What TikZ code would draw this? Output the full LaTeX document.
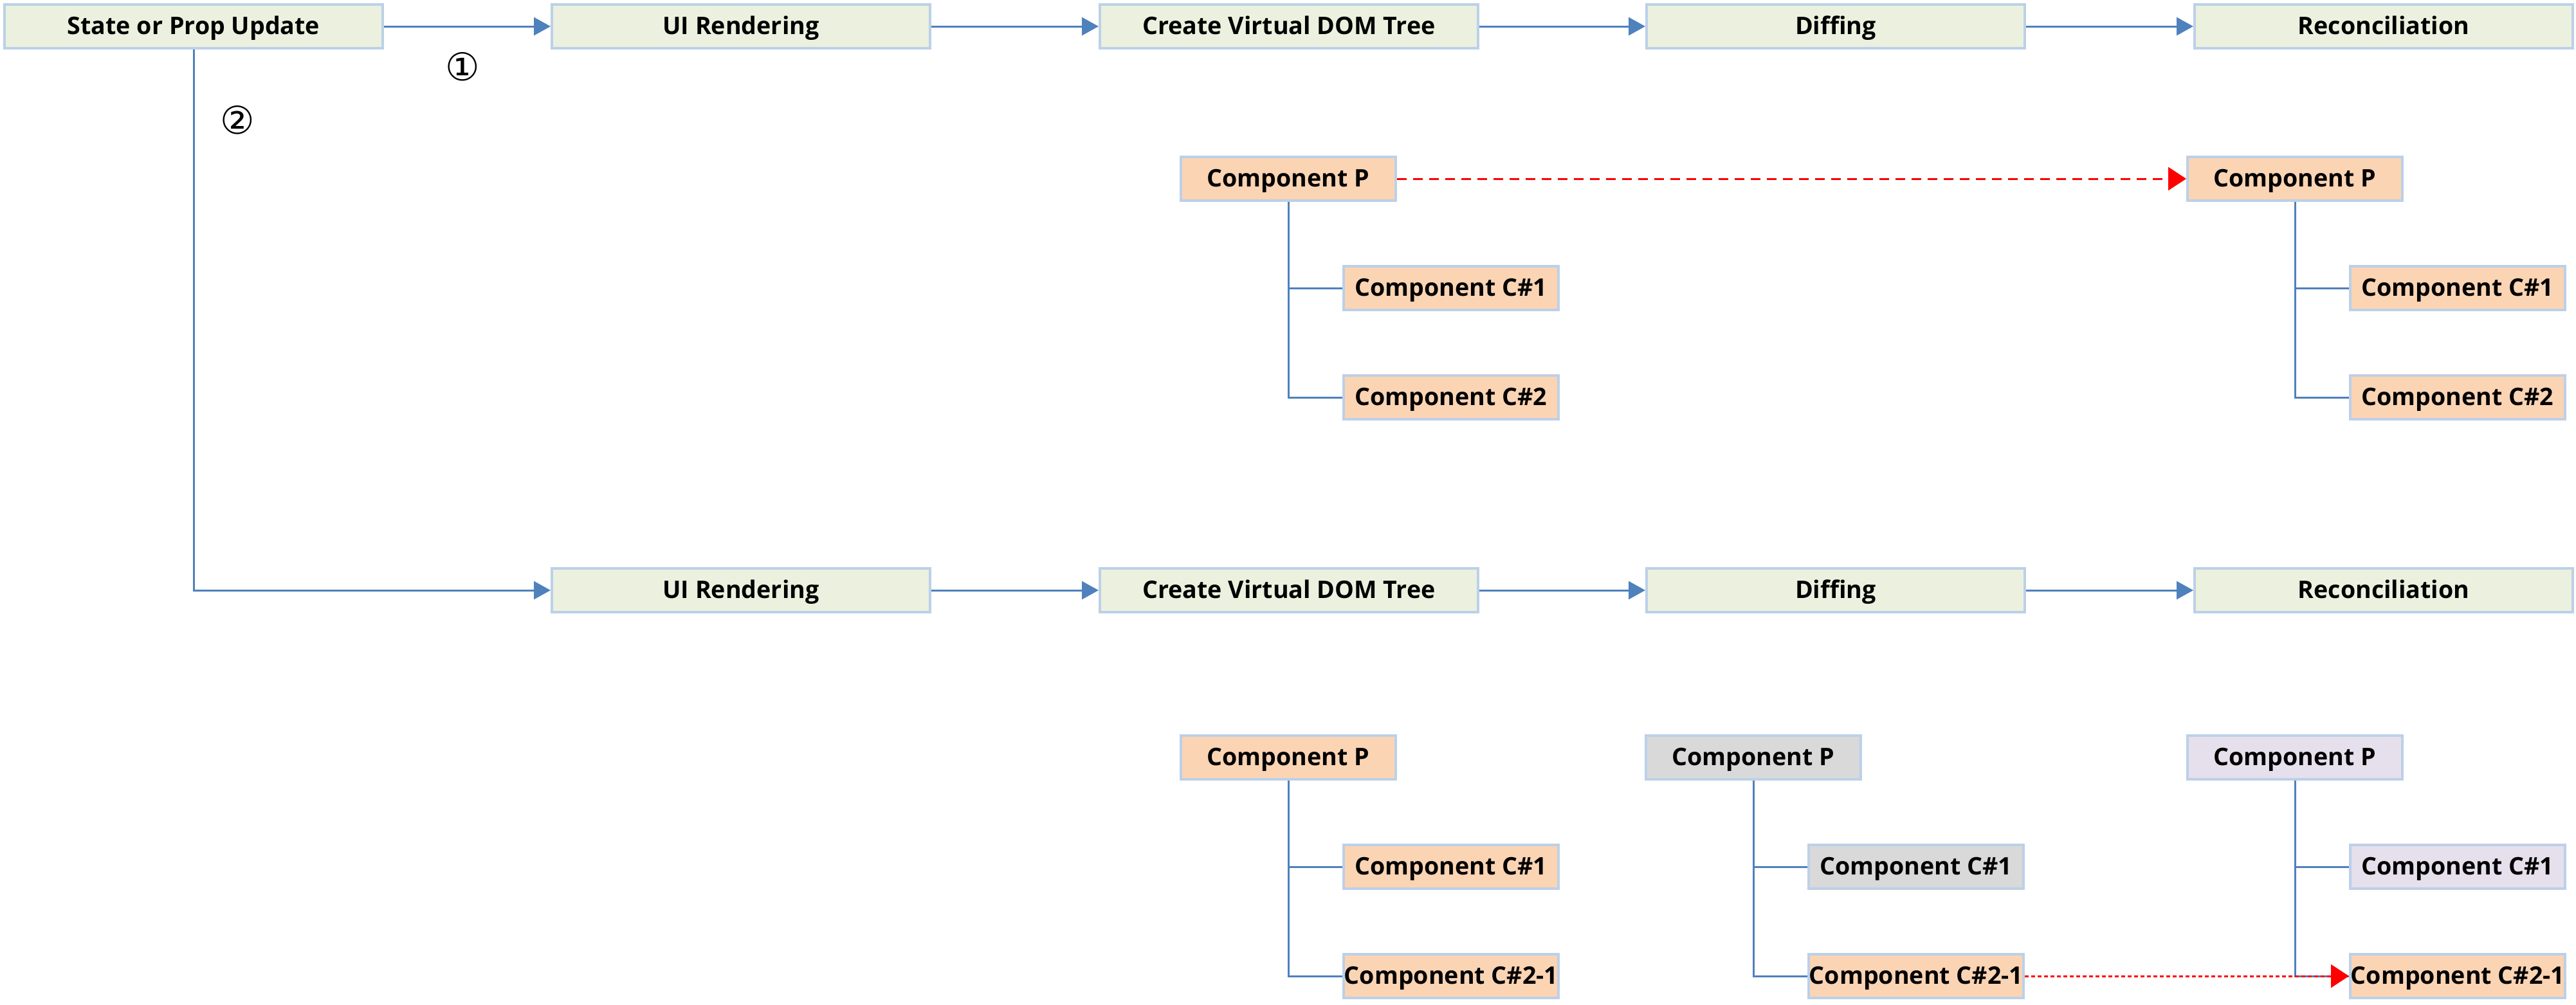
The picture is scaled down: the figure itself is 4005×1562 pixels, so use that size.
\documentclass[tikz,border=0pt]{standalone}
\usepackage{fontspec}
\setmainfont{Open Sans}
\newfontfamily\circfont{DejaVu Sans}
\usetikzlibrary{arrows.meta}
\definecolor{boxborder}{HTML}{BCD0E8}
\definecolor{stepfill}{HTML}{EBF1DE}
\definecolor{orangefill}{HTML}{FBD4B4}
\definecolor{grayfill}{HTML}{D9D9D9}
\definecolor{lavfill}{HTML}{E5E0EC}
\definecolor{linkblue}{HTML}{4F81BD}
\definecolor{redline}{HTML}{FF0000}
\tikzset{
  basebox/.style={draw=boxborder, line width=0.4mm, inner sep=0pt, minimum height=6.8mm,
    text height=7.5pt, text depth=0.5pt,
    font=\fontsize{10.7}{12}\selectfont\bfseries, text=black},
  stepbox/.style={basebox, fill=stepfill, minimum width=58.8mm},
  compbox/.style={basebox, minimum width=33.4mm},
  orangebox/.style={compbox, fill=orangefill},
  graybox/.style={compbox, fill=grayfill},
  lavbox/.style={compbox, fill=lavfill},
  flow/.style={draw=linkblue, line width=0.3mm, -{Triangle[length=2.6mm,width=2.8mm]}},
  treeline/.style={draw=linkblue, line width=0.3mm},
  reddash/.style={draw=redline, line width=0.3mm, dash pattern=on 1.5mm off 1mm, -{Triangle[length=2.8mm,width=3.6mm]}},
  reddot/.style={draw=redline, line width=0.3mm, dash pattern=on 0.6mm off 0.4mm, -{Triangle[length=2.8mm,width=3.6mm]}},
  circlabel/.style={font=\circfont\fontsize{17}{18}\selectfont, inner sep=0pt}
}
\begin{document}
\begin{tikzpicture}[x=0.1mm, y=-0.1mm]
\useasboundingbox (0,0) rectangle (4005,1562);

% row 1
\node[stepbox] (su) at (301,41) {State or Prop Update};
\node[stepbox] (ui1) at (1152,41) {UI Rendering};
\node[stepbox] (vd1) at (2004,41) {Create Virtual DOM Tree};
\node[stepbox] (df1) at (2854,41) {Diffing};
\node[stepbox] (rc1) at (3706,41) {Reconciliation};

% row 2
\node[stepbox] (ui2) at (1152,918) {UI Rendering};
\node[stepbox] (vd2) at (2004,918) {Create Virtual DOM Tree};
\node[stepbox] (df2) at (2854,918) {Diffing};
\node[stepbox] (rc2) at (3706,918) {Reconciliation};

\node[circlabel] (n1) at (719,104) {①};
\node[circlabel] (n2) at (369,187) {②};

\draw[flow] (su.east) -- (ui1.west);
\draw[flow] (ui1.east) -- (vd1.west);
\draw[flow] (vd1.east) -- (df1.west);
\draw[flow] (df1.east) -- (rc1.west);
\draw[flow] (su.south) |- (ui2.west);
\draw[flow] (ui2.east) -- (vd2.west);
\draw[flow] (vd2.east) -- (df2.west);
\draw[flow] (df2.east) -- (rc2.west);

% top trees
\node[orangebox] (tp1) at (2003,278) {Component P};
\node[orangebox] (tc11) at (2256,448) {Component C\#1};
\node[orangebox] (tc12) at (2256,618) {Component C\#2};
\node[orangebox] (tp2) at (3568,278) {Component P};
\node[orangebox] (tc21) at (3821,448) {Component C\#1};
\node[orangebox] (tc22) at (3821,618) {Component C\#2};
\draw[treeline] (tp1.south) |- (tc11.west);
\draw[treeline] (tp1.south) |- (tc12.west);
\draw[treeline] (tp2.south) |- (tc21.west);
\draw[treeline] (tp2.south) |- (tc22.west);
\draw[reddash] (tp1.east) -- (tp2.west);

% bottom trees
\node[orangebox] (ap) at (2003,1178) {Component P};
\node[orangebox] (ac1) at (2256,1348) {Component C\#1};
\node[orangebox] (ac2) at (2256,1518) {Component C\#2-1};
\node[graybox] (bp) at (2726,1178) {Component P};
\node[graybox] (bc1) at (2979,1348) {Component C\#1};
\node[orangebox] (bc2) at (2979,1518) {Component C\#2-1};
\node[lavbox] (cp) at (3568,1178) {Component P};
\node[lavbox] (cc1) at (3821,1348) {Component C\#1};
\node[orangebox] (cc2) at (3821,1518) {Component C\#2-1};
\draw[treeline] (ap.south) |- (ac1.west);
\draw[treeline] (ap.south) |- (ac2.west);
\draw[treeline] (bp.south) |- (bc1.west);
\draw[treeline] (bp.south) |- (bc2.west);
\draw[treeline] (cp.south) |- (cc1.west);
\draw[treeline] (cp.south) |- (cc2.west);
\draw[reddot] (bc2.east) -- (cc2.west);
\end{tikzpicture}
\end{document}
